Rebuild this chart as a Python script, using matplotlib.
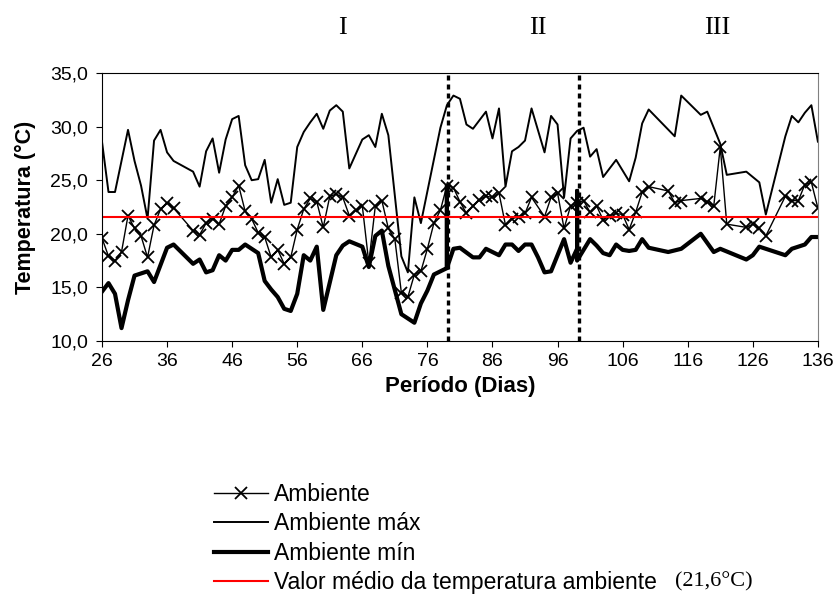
import matplotlib.pyplot as plt
from matplotlib.ticker import FuncFormatter

plt.rcParams['font.family'] = ['Liberation Sans', 'DejaVu Sans']

# Ambiente (dias, temperatura)
dias_amb = [26, 27, 28, 29, 30, 31, 32, 33, 34, 35, 36, 37, 40, 41, 42, 43, 44, 45, 46, 47,
            48, 49, 50, 51, 52, 53, 54, 55, 56, 57, 58, 59, 60, 61, 62, 63, 64, 65, 66, 67,
            68, 69, 70, 71, 72, 73, 74, 75, 76, 77, 78, 79, 80, 81, 82, 83, 84, 85, 86, 87,
            88, 89, 90, 91, 92, 94, 95, 96, 97, 98, 99, 100, 101, 102, 103, 104, 105, 106, 107, 108,
            109, 110, 113, 114, 115, 118, 119, 120, 121, 122, 125, 126, 127, 128, 131, 132, 133, 134, 135, 136]
temp_amb = [19.6, 17.9, 17.5, 18.3, 21.7, 20.5, 19.8, 17.8, 20.8, 22.3, 22.9, 22.4, 20.3, 19.9, 21.0, 21.4, 20.9, 22.6, 23.4, 24.5,
            22.1, 21.4, 20.1, 19.7, 17.8, 18.5, 17.2, 17.8, 20.4, 22.3, 23.3, 23.0, 20.6, 23.5, 23.7, 23.4, 21.7, 22.2, 22.6, 17.3,
            22.6, 23.1, 20.5, 19.5, 14.5, 14.1, 16.2, 16.5, 18.6, 21.0, 22.2, 24.5, 24.3, 23.0, 21.9, 22.6, 23.2, 23.5, 23.4, 23.8,
            20.8, 21.4, 21.6, 21.9, 23.4, 21.6, 23.4, 23.8, 20.5, 22.6, 22.9, 23.1, 22.0, 22.6, 21.3, 21.7, 21.9, 21.8, 20.4, 22.0,
            23.9, 24.4, 24.0, 22.9, 23.1, 23.3, 23.0, 22.6, 28.1, 20.9, 20.6, 20.9, 20.5, 19.8, 23.5, 23.1, 23.1, 24.6, 24.8, 22.4]

# Ambiente máx
dias_max = [26, 27, 28, 30, 31, 32, 33, 34, 35, 36, 37, 40, 41, 42, 43, 44, 45, 46, 47, 48,
            49, 50, 51, 52, 53, 54, 55, 56, 57, 58, 59, 60, 61, 62, 63, 64, 66, 67, 68, 69,
            70, 72, 73, 74, 75, 78, 79, 80, 81, 82, 83, 85, 86, 87, 88, 89, 90, 91, 92, 94,
            95, 96, 97, 98, 99, 100, 101, 102, 103, 105, 107, 108, 109, 110, 114, 115, 118, 119, 121, 122,
            125, 127, 128, 131, 132, 133, 134, 135, 136]
temp_max = [28.6, 23.9, 23.9, 29.7, 26.8, 24.5, 21.4, 28.7, 29.7, 27.6, 26.8, 25.8, 24.4, 27.7, 28.9, 25.7, 28.8, 30.7, 31.0, 26.4,
            25.0, 25.1, 26.9, 22.9, 25.1, 22.7, 22.9, 28.1, 29.5, 30.4, 31.2, 29.8, 31.5, 32.0, 31.4, 26.1, 28.8, 29.2, 28.1, 31.2,
            29.2, 17.9, 16.4, 23.4, 21.0, 29.9, 32.0, 32.9, 32.6, 30.2, 29.8, 31.4, 28.9, 31.7, 24.4, 27.7, 28.1, 28.7, 31.7, 27.6,
            31.0, 30.2, 23.4, 28.9, 29.6, 29.9, 27.2, 27.9, 25.3, 26.9, 24.9, 27.1, 30.3, 31.6, 29.1, 32.9, 31.1, 31.4, 28.4, 25.5,
            25.8, 24.8, 21.8, 29.1, 31.0, 30.4, 31.3, 32.0, 28.6]

# Ambiente mín
dias_min = [26, 27, 28, 29, 30, 31, 33, 34, 36, 37, 40, 41, 42, 43, 44, 45, 46, 47, 48, 50,
            51, 52, 53, 54, 55, 56, 57, 58, 59, 60, 62, 63, 64, 66, 67, 68, 69, 70, 72, 74,
            75, 76, 77, 78, 79, 79, 79, 80, 81, 83, 84, 85, 86, 87, 88, 89, 90, 91, 92, 93,
            94, 95, 97, 98, 99, 99, 99, 101, 102, 103, 104, 105, 106, 107, 108, 109, 110, 113, 115, 118,
            120, 121, 125, 126, 127, 131, 132, 134, 135, 136]
temp_min = [14.6, 15.4, 14.4, 11.2, 13.8, 16.1, 16.5, 15.5, 18.7, 19.0, 17.2, 17.6, 16.4, 16.6, 18.0, 17.5, 18.5, 18.5, 19.0, 18.2,
            15.6, 14.8, 14.1, 13.0, 12.8, 14.4, 18.0, 17.5, 18.8, 12.9, 18.0, 18.9, 19.3, 18.8, 16.9, 19.8, 20.3, 17.0, 12.5, 11.7,
            13.5, 14.7, 16.2, 16.5, 16.8, 24.5, 16.8, 18.6, 18.7, 17.8, 17.8, 18.6, 18.3, 18.0, 19.0, 19.0, 18.4, 19.0, 19.0, 17.8,
            16.4, 16.5, 19.5, 17.3, 18.6, 24.0, 17.5, 19.5, 18.9, 18.2, 18.0, 19.0, 18.5, 18.4, 18.5, 19.5, 18.7, 18.3, 18.6, 20.0,
            18.3, 18.6, 17.6, 18.0, 18.8, 18.0, 18.6, 19.0, 19.7, 19.7]

media = 21.6
divisoes = [79.2, 99.3]
fases = ['I', 'II', 'III']
fases_x = [63, 93, 120.5]

fig = plt.figure(figsize=(8.38, 5.94), dpi=100)
ax = fig.add_axes([0.1217, 0.426, 0.8543, 0.451])

l1, = ax.plot(dias_amb, temp_amb, color='black', lw=1, marker='x', ms=9, mew=1.3, label='Ambiente')
l2, = ax.plot(dias_max, temp_max, color='black', lw=1.4, label='Ambiente máx')
l3, = ax.plot(dias_min, temp_min, color='black', lw=3, label='Ambiente mín')
l4 = ax.axhline(media, color='red', lw=1.5, label='Valor médio da temperatura ambiente')
for d in divisoes:
    ax.axvline(d, color='black', lw=2.4, ls=(0, (1.5, 1.2)))

ax.set_xlim(26, 136)
ax.set_ylim(10, 35)
ax.set_xticks(range(26, 137, 10))
ax.set_yticks(range(10, 36, 5))
ax.yaxis.set_major_formatter(FuncFormatter(lambda v, p: f"{v:.1f}".replace('.', ',')))
ax.tick_params(labelsize=14, direction='out', length=4)
ax.tick_params(axis='x', pad=5)
ax.tick_params(axis='y', pad=6)
ax.spines['right'].set_color('gray')
ax.set_xlabel('Período (Dias)', fontsize=16, fontweight='bold', labelpad=4)
ax.set_ylabel('Temperatura (°C)', fontsize=15.5, fontweight='bold', labelpad=10)

for f, x in zip(fases, fases_x):
    ax.text(x, 39.2, f, ha='center', va='center', fontsize=19, family='Liberation Serif')

fig.legend(handles=[l1, l2, l3, l4], loc='upper left', bbox_to_anchor=(0.245, 0.202),
           frameon=False, fontsize=16.5, handlelength=2.35, handletextpad=0.25,
           labelspacing=0.27, borderaxespad=0)
fig.text(0.805, 0.02, '(21,6°C)', fontsize=16, family='Liberation Serif', va='center')

plt.savefig('out.png', dpi=100)
